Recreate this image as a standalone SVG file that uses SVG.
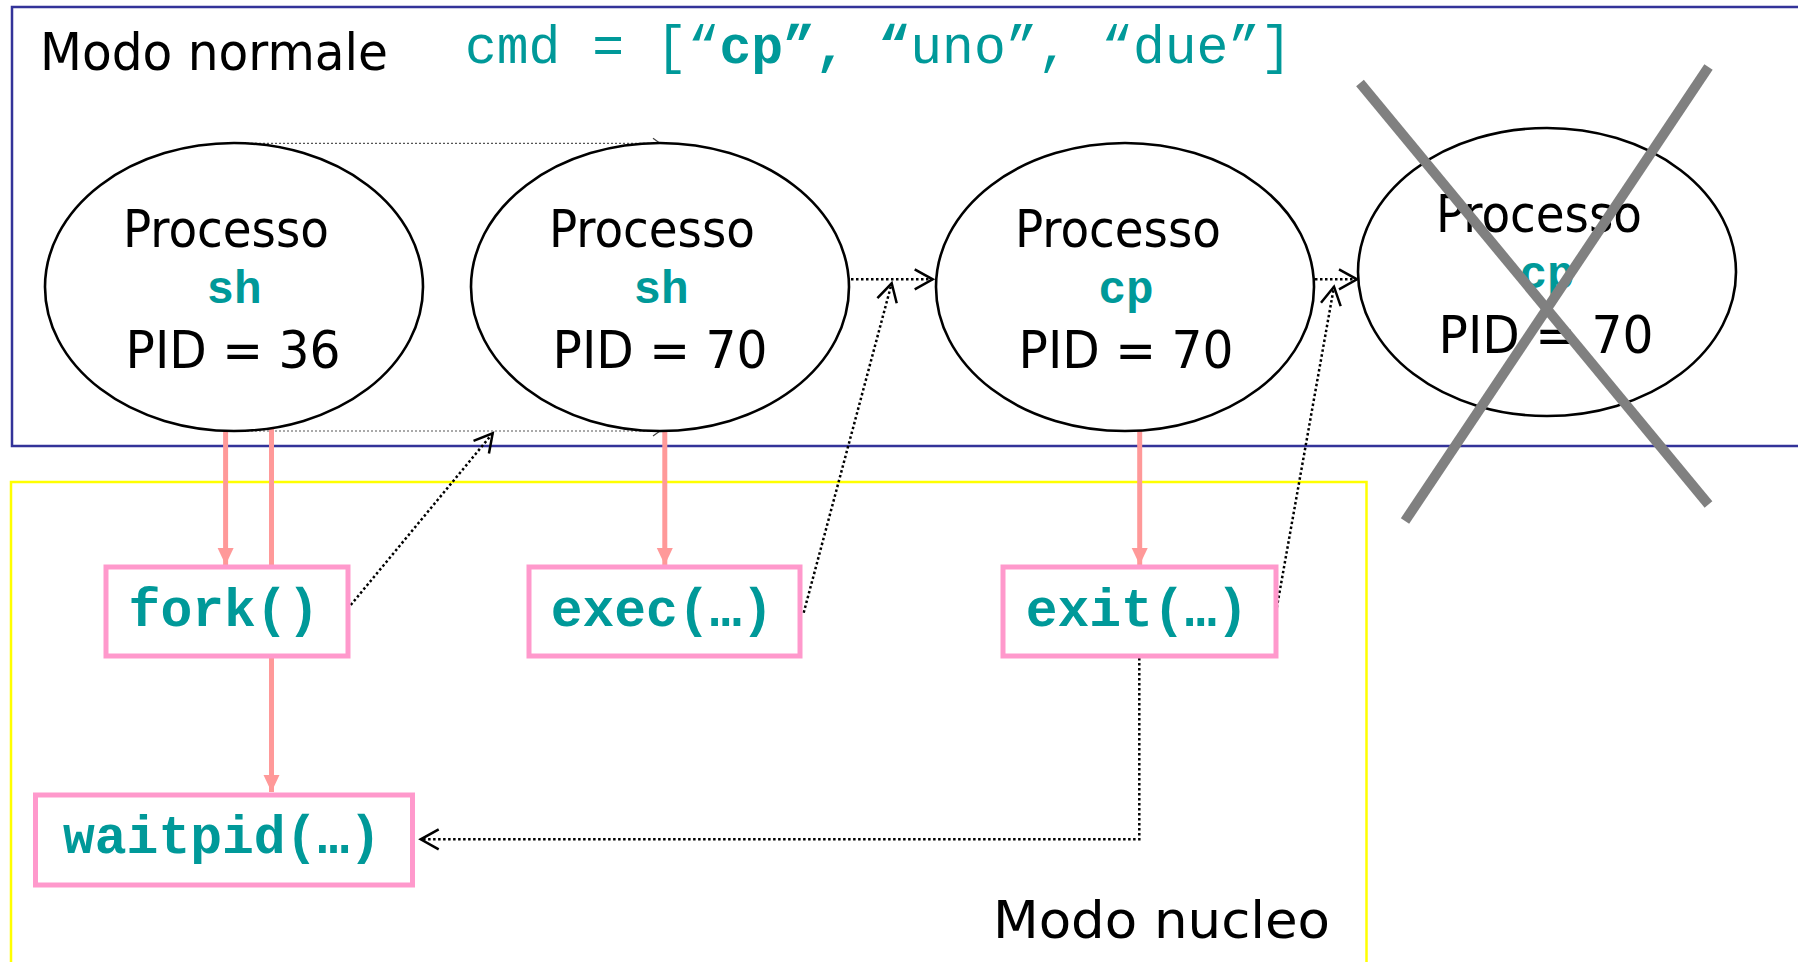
<svg xmlns="http://www.w3.org/2000/svg" width="1798" height="962" viewBox="0 0 1798 962">
  <style>
    .sans { font-family: 'DejaVu Sans Condensed', 'DejaVu Sans', sans-serif; font-stretch: condensed; font-size: 52px; fill: #000; }
    .mono { font-family: 'Liberation Mono', 'Courier New', monospace; fill: #009999; }
    .name { font-size: 46px; font-weight: bold; text-anchor: middle; }
    .call { font-size: 53px; font-weight: bold; text-anchor: middle; }
    .mid { text-anchor: middle; }
    .proc { fill: #fff; stroke: #000; stroke-width: 2.6; }
    .box { fill: #fff; stroke: #ff99cc; stroke-width: 5; }
    .flow { fill: none; stroke: #ff9999; stroke-width: 5; marker-end: url(#solid); }
    .dot { fill: none; stroke: #000; stroke-width: 2.5; stroke-dasharray: 2.5 2.5; marker-end: url(#open); }
    .faint { fill: none; stroke: #555; stroke-width: 1.2; stroke-dasharray: 2 2; marker-end: url(#tiny); }
  </style>
  <defs>
    <marker id="solid" markerUnits="userSpaceOnUse" markerWidth="20" markerHeight="20" orient="auto" overflow="visible">
      <path d="M0,0 L-17,-8 L-17,8 Z" fill="#ff9999"/>
    </marker>
    <marker id="open" markerUnits="userSpaceOnUse" markerWidth="20" markerHeight="20" orient="auto" overflow="visible">
      <path d="M-18,-10 L0,0 L-18,10" fill="none" stroke="#000" stroke-width="2.5"/>
    </marker>
    <marker id="tiny" markerUnits="userSpaceOnUse" markerWidth="10" markerHeight="10" orient="auto" overflow="visible">
      <path d="M-7,-5 L0,0 L-7,5" fill="none" stroke="#444" stroke-width="1.2"/>
    </marker>
  </defs>

  <rect width="1798" height="962" fill="#fff"/>

  <!-- user mode and kernel mode areas -->
  <g id="user-mode">
    <rect x="12" y="7" width="1800" height="439" fill="none" stroke="#333399" stroke-width="2.5"/>
    <text class="sans" x="40" y="70" textLength="348" lengthAdjust="spacingAndGlyphs">Modo normale</text>
    <text class="mono" x="465" y="63" font-size="53px">cmd = [“<tspan font-weight="bold">cp”, “</tspan>uno”, “due”]</text>
  </g>
  <g id="kernel-mode">
    <rect x="11" y="482" width="1355.5" height="600" fill="none" stroke="#ffff00" stroke-width="2.5"/>
    <text class="sans" x="993" y="938" textLength="337" lengthAdjust="spacingAndGlyphs">Modo nucleo</text>
  </g>

  <!-- connectors -->
  <g id="connectors">
    <path class="faint" d="M235,143.3 H660"/>
    <path class="faint" d="M235,431 H660"/>
    <path class="flow" d="M225.6,431 V565"/>
    <path class="flow" d="M271.5,428 V792"/>
    <path class="flow" d="M664.8,431 V565"/>
    <path class="flow" d="M1139.7,431 V565"/>
    <path class="dot" d="M344.4,612.7 L492.7,433.3"/>
    <path class="dot" d="M803.7,612.7 L891.7,283.3"/>
    <path class="dot" d="M846,279.3 H932.7"/>
    <path class="dot" d="M1275.9,612.7 L1334,286.7"/>
    <path class="dot" d="M1315,279.3 H1357"/>
    <path class="dot" d="M1139.3,658 V839.3 H420.7"/>
  </g>

  <!-- processes -->
  <g id="proc-sh-36">
    <ellipse class="proc" cx="234" cy="287" rx="189" ry="144"/>
    <text class="sans mid" x="226" y="247" textLength="206" lengthAdjust="spacingAndGlyphs">Processo</text>
    <text class="mono name" x="234" y="303">sh</text>
    <text class="sans mid" x="233" y="368" textLength="215" lengthAdjust="spacingAndGlyphs">PID = 36</text>
  </g>
  <g id="proc-sh-70">
    <ellipse class="proc" cx="660" cy="287" rx="189" ry="144"/>
    <text class="sans mid" x="652" y="247" textLength="206" lengthAdjust="spacingAndGlyphs">Processo</text>
    <text class="mono name" x="661" y="303">sh</text>
    <text class="sans mid" x="660" y="368" textLength="215" lengthAdjust="spacingAndGlyphs">PID = 70</text>
  </g>
  <g id="proc-cp-70">
    <ellipse class="proc" cx="1125" cy="287" rx="189" ry="144"/>
    <text class="sans mid" x="1118" y="247" textLength="206" lengthAdjust="spacingAndGlyphs">Processo</text>
    <text class="mono name" x="1126" y="303">cp</text>
    <text class="sans mid" x="1126" y="368" textLength="215" lengthAdjust="spacingAndGlyphs">PID = 70</text>
  </g>
  <g id="proc-cp-ended">
    <ellipse class="proc" cx="1547" cy="272" rx="189" ry="144"/>
    <text class="sans mid" x="1539" y="232" textLength="206" lengthAdjust="spacingAndGlyphs">Processo</text>
    <text class="mono name" x="1547" y="288">cp</text>
    <text class="sans mid" x="1546" y="353" textLength="215" lengthAdjust="spacingAndGlyphs">PID = 70</text>
  </g>

  <!-- system calls -->
  <g id="call-fork">
    <rect class="box" x="106" y="567" width="242" height="89"/>
    <text class="mono call" x="224" y="626">fork()</text>
  </g>
  <g id="call-exec">
    <rect class="box" x="529" y="567" width="271" height="89"/>
    <text class="mono call" x="662" y="626">exec(…)</text>
  </g>
  <g id="call-exit">
    <rect class="box" x="1003" y="567" width="273" height="89"/>
    <text class="mono call" x="1137" y="626">exit(…)</text>
  </g>
  <g id="call-waitpid">
    <rect class="box" x="35.5" y="795" width="377" height="90"/>
    <text class="mono call" x="222" y="853">waitpid(…)</text>
  </g>

  <!-- cross over the terminated process -->
  <g id="terminated-mark" stroke="#808080" stroke-width="10">
    <line x1="1360" y1="83" x2="1708.5" y2="504.5"/>
    <line x1="1708.5" y1="67" x2="1405" y2="521"/>
  </g>
</svg>
